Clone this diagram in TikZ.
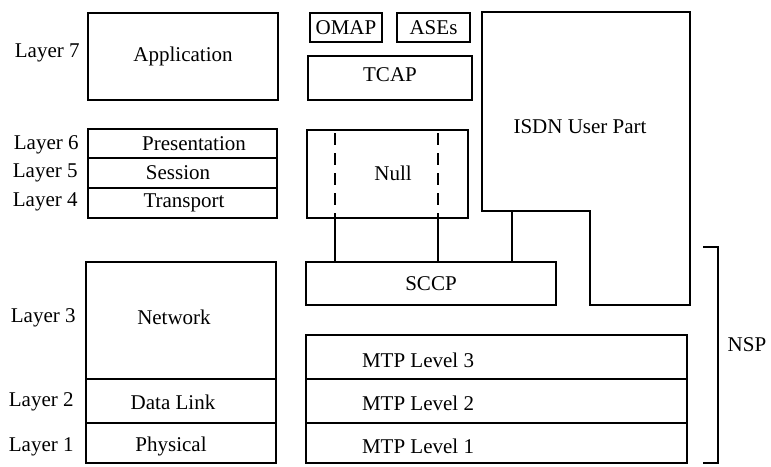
\documentclass[tikz,border=0pt]{standalone}
\usepackage{fontspec}
\setmainfont{Liberation Serif}
\begin{document}
\begin{tikzpicture}[x=0.5pt,y=-0.5pt,
  box/.style={draw, line width=0.8pt, inner sep=0pt, font=\fontsize{10.5}{12}\selectfont},
  txt/.style={inner sep=0pt, font=\fontsize{10.5}{12}\selectfont},
  lay/.style={txt, anchor=east},
  ln/.style={line width=0.8pt},
  dsh/.style={line width=0.8pt, dash pattern=on 6pt off 4pt}]
\useasboundingbox (0,0) rectangle (771,466);
% OSI stack
\node[box, minimum width=95pt, minimum height=43.5pt] (app) at (183,56.5) {Application};
\node[box, minimum width=94.5pt, minimum height=14.5pt] (pres) at (182.5,143.5) {};
\node[txt] (prest) at (194,144) {Presentation};
\node[box, minimum width=94.5pt, minimum height=15pt] (sess) at (182.5,173) {};
\node[txt] (sesst) at (178,173) {Session};
\node[box, minimum width=94.5pt, minimum height=15pt] (trans) at (182.5,203) {};
\node[txt] (transt) at (184,203) {Transport};
\node[box, minimum width=95pt, minimum height=58.5pt] (net) at (181,320.5) {};
\node[txt] (nett) at (174,317) {Network};
\node[box, minimum width=95pt, minimum height=22pt] (dl) at (181,401) {};
\node[txt] (dlt) at (173,402) {Data Link};
\node[box, minimum width=95pt, minimum height=20pt] (phys) at (181,443) {};
\node[txt] (physt) at (171,446) {Physical};
% layer labels
\node[lay] (l7) at (80,53) {Layer 7};
\node[lay] (l6) at (79,145) {Layer 6};
\node[lay] (l5) at (78,173) {Layer 5};
\node[lay] (l4) at (78,202) {Layer 4};
\node[lay] (l3) at (76,318) {Layer 3};
\node[lay] (l2) at (74,402) {Layer 2};
\node[lay] (l1) at (74,447) {Layer 1};
% SS7 stack
\node[box, minimum width=36pt, minimum height=14.5pt] (omap) at (346,27.5) {OMAP};
\node[box, minimum width=36.5pt, minimum height=14.5pt] (ases) at (433.5,27.5) {ASEs};
\node[box, minimum width=82pt, minimum height=22pt] (tcap) at (390,78) {};
\node[txt] (tcapt) at (390,75) {TCAP};
\node[box, minimum width=80.5pt, minimum height=44pt] (null) at (387.5,174) {};
\node[txt] (nullt) at (393,173) {Null};
\node[box, minimum width=125pt, minimum height=21.5pt] (sccp) at (431,283.5) {SCCP};
\node[box, minimum width=190.5pt, minimum height=22pt] (mtp3) at (496.5,357) {};
\node[txt] (mtp3t) at (418,360) {MTP Level 3};
\node[box, minimum width=190.5pt, minimum height=22pt] (mtp2) at (496.5,401) {};
\node[txt] (mtp2t) at (418,403) {MTP Level 2};
\node[box, minimum width=190.5pt, minimum height=20pt] (mtp1) at (496.5,443) {};
\node[txt] (mtp1t) at (418,446) {MTP Level 1};
% ISDN user part (L-shaped)
\draw[ln] (482,12) -- (690,12) -- (690,305) -- (590,305) -- (590,211) -- (482,211) -- cycle;
\node[txt] (isdn) at (580,127) {ISDN User Part};
% connectors
\coordinate (d1) at (335,0);
\coordinate (d2) at (438,0);
\coordinate (ib) at (512,211);
\draw[dsh] ([yshift=-2pt]null.north -| d1) -- ([yshift=1pt]null.south -| d1);
\draw[dsh] ([yshift=-2pt]null.north -| d2) -- ([yshift=1pt]null.south -| d2);
\draw[ln] (null.south -| d1) -- (sccp.north -| d1);
\draw[ln] (null.south -| d2) -- (sccp.north -| d2);
\draw[ln] (ib) -- (sccp.north -| ib);
% NSP bracket
\coordinate (b1) at (703,247);
\coordinate (b2) at (718,247);
\coordinate (b3) at (718,463);
\coordinate (b4) at (703,463);
\draw[ln] (b1) -- (b2) -- (b3) -- (b4);
\node[txt] (nsp) at (747,345) {NSP};
\end{tikzpicture}
\end{document}
